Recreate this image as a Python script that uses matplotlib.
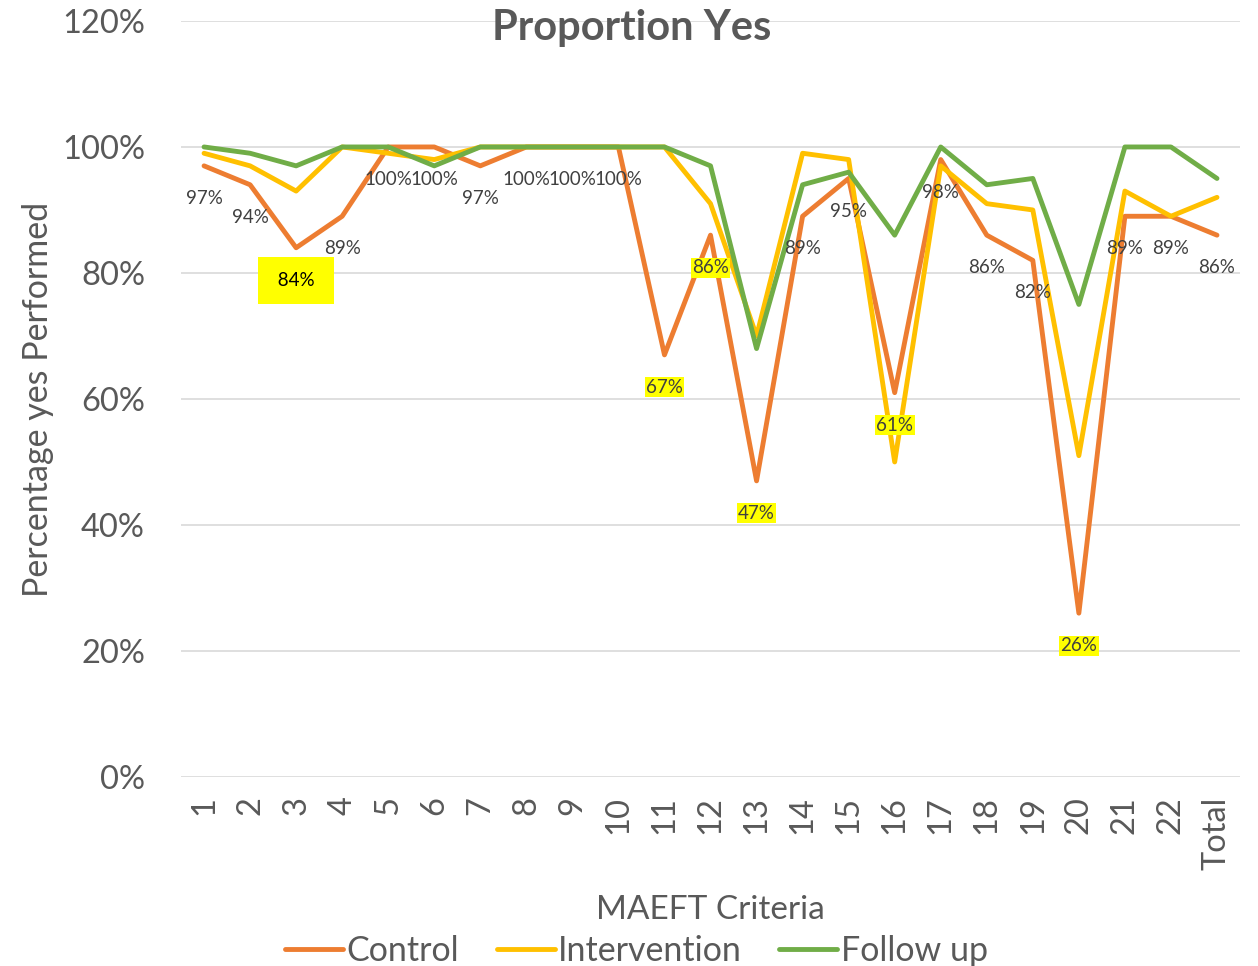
import numpy as np
import matplotlib
matplotlib.use('Agg')
import matplotlib.pyplot as plt

plt.rcParams['font.family'] = ['Lato', 'DejaVu Sans']

# MAEFT criteria on x axis
criteria = [str(i) for i in range(1, 23)] + ['Total']
control = [97, 94, 84, 89, 100, 100, 97, 100, 100, 100, 67, 86, 47, 89, 95, 61, 98, 86, 82, 26, 89, 89, 86]
intervention = [99, 97, 93, 100, 99, 98, 100, 100, 100, 100, 100, 91, 70, 99, 98, 50, 97, 91, 90, 51, 93, 89, 92]
follow_up = [100, 99, 97, 100, 100, 97, 100, 100, 100, 100, 100, 97, 68, 94, 96, 86, 100, 94, 95, 75, 100, 100, 95]
# labels with yellow highlight (index into control)
highlight = [2, 10, 11, 12, 15, 19]

grey = '#595959'
fig = plt.figure(figsize=(12.58, 9.66), dpi=100)
ax = fig.add_axes([0.1439, 0.1957, 0.8418, 0.7826])

x = np.arange(1, len(criteria) + 1)
ax.plot(x, control, color='#ED7D31', lw=3.5, label='Control', solid_capstyle='round', zorder=3)
ax.plot(x, intervention, color='#FFC000', lw=3.5, label='Intervention', solid_capstyle='round', zorder=3)
ax.plot(x, follow_up, color='#70AD47', lw=3.5, label='Follow up', solid_capstyle='round', zorder=3)

# data labels for control, below the point
for i, v in enumerate(control):
    kw = dict(ha='center', va='center', fontsize=13.5, color='#404040', zorder=5)
    if i == 2:
        kw['color'] = 'black'
        kw['bbox'] = dict(boxstyle='square,pad=0.8', fc='yellow', ec='none')
        kw['text'] = f' {v}% '
    elif i in highlight:
        kw['bbox'] = dict(boxstyle='square,pad=0.08', fc='yellow', ec='none')
    txt = kw.pop('text', f'{v}%')
    ax.annotate(txt, (x[i], v), xytext=(0, -23.5), textcoords='offset points', **kw)

ax.set_xlim(0.5, len(criteria) + 0.5)
ax.set_ylim(0, 120)
ax.set_yticks(np.arange(0, 121, 20))
ax.set_yticklabels([f'{t}%' for t in range(0, 121, 20)])
ax.set_xticks(x)
ax.set_xticklabels(criteria, rotation=90, va='top', ha='center')
ax.tick_params(axis='both', length=0, colors=grey, labelsize=23.5)
ax.tick_params(axis='x', pad=14)
ax.tick_params(axis='y', pad=26)
ax.grid(axis='y', color='#D9D9D9', lw=1.2)
ax.set_axisbelow(True)
for s in ax.spines.values():
    s.set_visible(False)

ax.set_ylabel('Percentage yes Performed', fontsize=24.5, color=grey, labelpad=6)
fig.text(0.5644, 0.058, 'MAEFT Criteria', ha='center', va='center', fontsize=24, color=grey)
fig.text(0.5024, 0.971, 'Proportion Yes', ha='center', va='center', fontsize=30, fontweight='bold', color=grey)

fig.legend(loc='center', bbox_to_anchor=(0.506, 0.016), ncol=3, frameon=False,
           fontsize=24.5, labelcolor=grey, handlelength=1.7, handletextpad=0.1,
           columnspacing=1.1)

fig.savefig('out.png', dpi=100)
